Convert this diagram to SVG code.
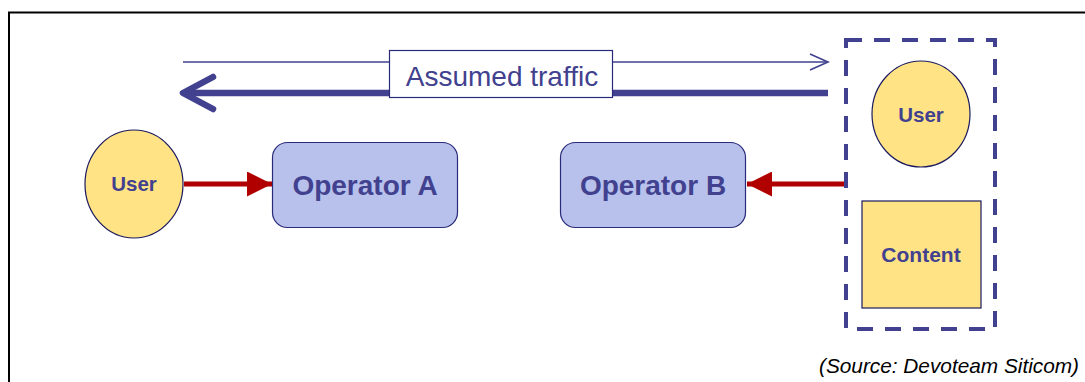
<svg xmlns="http://www.w3.org/2000/svg" width="1085" height="382" viewBox="0 0 1085 382">
  <style>
    .lbl { font-family: "Liberation Sans", Arial, sans-serif; font-weight: bold; fill: #41418F; text-anchor: middle; }
    .yellow { fill: #FFE385; stroke: #1A1A5E; stroke-width: 1.2; }
    .op { fill: #B8C1EC; stroke: #2A2A7A; stroke-width: 1.2; }
    .red { stroke: #B00000; stroke-width: 5; fill: none; }
  </style>
  <defs>
    <marker id="redHead" viewBox="0 0 10 10" refX="10" refY="5" markerWidth="5" markerHeight="5" orient="auto" markerUnits="strokeWidth">
      <path d="M0,0 L10,5 L0,10 z" fill="#B00000"/>
    </marker>
  </defs>

  <rect width="1085" height="382" fill="#FFFFFF"/>
  <!-- frame -->
  <path d="M9,382 V12.5 H1085" fill="none" stroke="#000" stroke-width="2"/>

  <!-- traffic arrows and label -->
  <g id="traffic">
    <line x1="183" y1="62" x2="828" y2="62" stroke="#41418F" stroke-width="1.6"/>
    <polyline points="810,54 828,62 810,70" fill="none" stroke="#41418F" stroke-width="1.6"/>
    <line x1="184" y1="93" x2="828" y2="93" stroke="#41418F" stroke-width="6.5"/>
    <polyline points="213,77 183,93 213,109" fill="none" stroke="#41418F" stroke-width="6.5" stroke-linecap="round" stroke-linejoin="round"/>
    <rect x="389.5" y="50.5" width="223" height="47" fill="#FFFFFF" stroke="#2A2A7A" stroke-width="1.2"/>
    <text x="502" y="86" font-family="'Liberation Sans', Arial, sans-serif" font-size="28" fill="#41418F" text-anchor="middle">Assumed traffic</text>
  </g>

  <!-- connectors -->
  <g id="connectors">
    <line class="red" x1="184" y1="184" x2="272" y2="184" marker-end="url(#redHead)"/>
    <line class="red" x1="845" y1="184" x2="747" y2="184" marker-end="url(#redHead)"/>
  </g>

  <g id="user-left">
    <ellipse class="yellow" cx="134" cy="184" rx="49" ry="54"/>
    <text class="lbl" x="134" y="191" font-size="20.5">User</text>
  </g>

  <g id="operator-a">
    <rect class="op" x="272.5" y="142.5" width="185" height="85" rx="15"/>
    <text class="lbl" x="365" y="195" font-size="28">Operator A</text>
  </g>

  <g id="operator-b">
    <rect class="op" x="560.5" y="142.5" width="185" height="85" rx="15"/>
    <text class="lbl" x="653" y="195" font-size="28">Operator B</text>
  </g>

  <g id="remote-group">
    <rect x="846" y="40" width="149" height="289" fill="none" stroke="#41418F" stroke-width="4" stroke-dasharray="16 12"/>
  </g>

  <g id="user-right">
    <ellipse class="yellow" cx="921" cy="114" rx="49" ry="53"/>
    <text class="lbl" x="921" y="122" font-size="20.5">User</text>
  </g>

  <g id="content">
    <rect class="yellow" x="862" y="201" width="119" height="107"/>
    <text class="lbl" x="921" y="262" font-size="21">Content</text>
  </g>

  <text x="1079" y="373" font-family="'Liberation Sans', Arial, sans-serif" font-size="20.8" font-style="italic" fill="#000" text-anchor="end">(Source: Devoteam Siticom)</text>
</svg>
